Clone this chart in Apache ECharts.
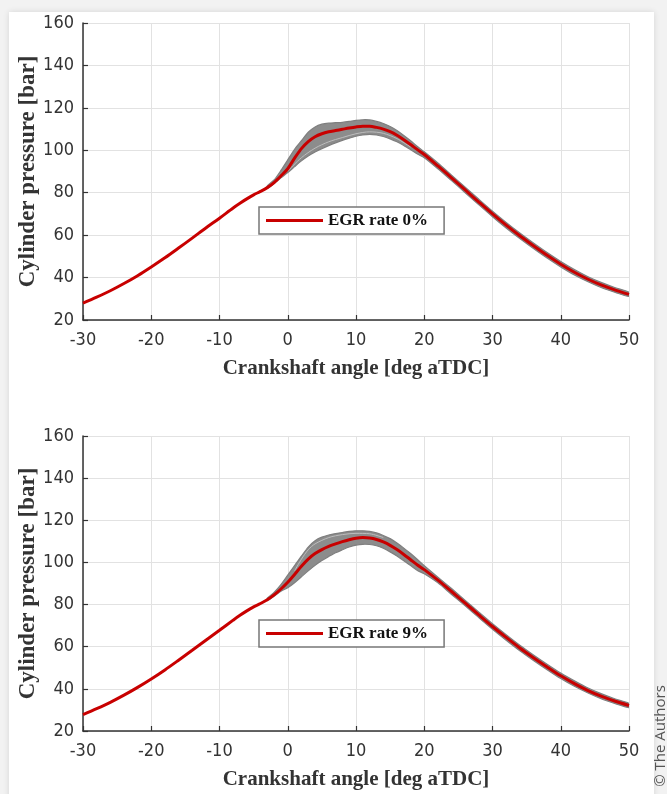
<!DOCTYPE html>
<html><head><meta charset="utf-8">
<script src="https://cdn.jsdelivr.net/npm/echarts@6/dist/echarts.min.js"></script>
<style>
html,body{margin:0;padding:0;background:#f2f2f2;width:667px;height:794px;overflow:hidden}
#card{position:absolute;left:9px;top:12px;width:645px;height:800px;background:#fff;box-shadow:0 0 6px rgba(0,0,0,0.12)}
#chart{position:absolute;left:0;top:0;width:667px;height:794px}
</style></head>
<body><div id="card"></div><div id="chart"></div>
<script>
// ---- data ----
const angle = [-30,-28,-26,-24,-22,-20,-18,-16,-14,-12,-10,-8,-7,-6,-5,-4,-3,-2,-1,0,1,2,3,4,5,6,7,8,9,10,11,12,13,14,15,16,17,18,19,20,22,24,26,28,30,32,34,36,38,40,42,44,46,48,50];
const red0 = [28,30.8,33.8,37.2,40.9,45,49.3,53.9,58.6,63.4,68,72.8,
  75,77.1,79,80.6,82.4,84.8,87.9,91.3,96.3,100.8,104.1,106.4,107.8,108.7,109.3,109.9,110.5,111,111.3,111.3,110.8,110,108.8,107.1,105,102.7,100.3,98,
  92.6,87,81.3,75.6,70,64.7,59.7,55,50.5,46.3,42.5,39.2,36.4,34.1,32.1];
const red9 = [27.8,30.6,33.6,37,40.7,44.7,49,53.6,58.3,63.1,67.8,72.6,
  74.9,77,78.9,80.5,82.3,84.6,87.4,90.6,94.3,98.2,101.6,104.2,106.1,107.6,108.8,109.9,110.8,111.5,111.8,111.6,110.9,109.7,108.1,106.1,103.8,101.3,98.8,96.6,
  91.6,86.2,80.7,75.1,69.6,64.4,59.4,54.8,50.4,46.2,42.5,39.2,36.4,34.1,32.1];
const bandAngle = [-3,-2,-1,0,1,2,3,4,5,6,7,8,9,10,11,12,13,14,15,16,17,18,19,20,22,24,26,28,30,32,34,36,38,40,42,44,46,48,50];
const upper0 = [83.2,86,90.5,95.5,100.5,104.5,108.5,111,112.3,112.8,113,113.2,113.6,114.1,114.4,114.3,113.6,112.6,111.2,109.3,107,104.5,101.8,99.3,
  94,88.3,82.6,76.9,71.3,66,61,56.3,51.8,47.6,43.8,40.4,37.6,35.2,33.1];
const lower0 = [82,84.3,87,89.5,92.3,95,97.3,99.2,100.8,102.2,103.5,104.7,105.7,106.6,107.2,107.5,107.2,106.5,105.4,104,102.3,100.3,98.2,96.5,
  91.3,85.7,80,74.3,68.7,63.4,58.4,53.7,49.2,45,41.2,38,35.2,33,31.1];
const upper9 = [83,85.8,89.5,94,98.5,103,107.3,110.3,112,113,113.7,114.2,114.7,115,115,114.7,114,112.8,111.3,109.2,106.8,104.2,101.4,98.5,
  93,87.6,82,76.4,70.9,65.7,60.7,56.1,51.7,47.5,43.8,40.4,37.6,35.2,33.1];
const lower9 = [81.9,84,86.3,88,90.4,93.2,96,98.6,100.9,102.8,104.6,106,107.3,108.2,108.6,108.5,107.9,106.7,105,103,100.8,98.5,96.2,94.6,
  90.3,84.8,79.4,73.8,68.3,63.1,58.1,53.5,49.1,44.9,41.2,38,35.2,33,31.1];
const streakAngle0 = [0,2,4,6,8,10,12,14,16,18];
const streak0 = [90.2,96.5,101,104,106,107.8,108.7,108,105.5,101.5];
const streakAngle9 = [1,2,3,4,6,8,10,12,14];
const streak9 = [96,101.5,106,108.8,111.8,113.2,113.8,113.6,111.8];
const xTicks = {min:-30, max:50, interval:10};
const yTicks = {min:20, max:160, interval:20};
const legendNames = ['EGR rate 0%','EGR rate 9%'];
const xTitle = 'Crankshaft angle [deg aTDC]';
const yTitle = 'Cylinder pressure [bar]';

// ---- build ----
const pairs = (xs, ys) => xs.map((x,i)=>[x, ys[i]]);
const NARROW = "'Liberation Sans Narrow','Arial Narrow','DejaVu Sans Condensed','Liberation Sans',sans-serif";
const SERIF = "'Liberation Serif','Times New Roman',serif";
const RED = '#c80000';

function axesFor(i){
  const common = {
    gridIndex:i, type:'value',
    axisLine:{show:true,onZero:false,lineStyle:{color:'#333',width:1.5}},
    axisTick:{show:true,inside:true,length:5,lineStyle:{color:'#333',width:1.2}},
    splitLine:{show:true,lineStyle:{color:'#e2e2e2',width:1}},
    axisLabel:{fontFamily:NARROW,fontSize:18,color:'#333'},
    nameLocation:'middle',
    nameMoveOverlap:false
  };
  return {
    x: Object.assign({}, common, xTicks, {name:xTitle,nameGap:38,
      nameTextStyle:{fontFamily:SERIF,fontWeight:'bold',fontSize:21,color:'#333'},
      axisLabel:Object.assign({},common.axisLabel,{margin:11})}),
    y: Object.assign({}, common, yTicks, {name:yTitle,nameGap:43,
      nameTextStyle:{fontFamily:SERIF,fontWeight:'bold',fontSize:23,color:'#333'},
      axisLabel:Object.assign({},common.axisLabel,{margin:9})})
  };
}
const a0 = axesFor(0), a1 = axesFor(1);

function seriesFor(i, red, upper, lower, sAng, streak, name){
  const base = {type:'line', xAxisIndex:i, yAxisIndex:i, symbol:'none', smooth:0.3, silent:true};
  return [
    {type:'custom', xAxisIndex:i, yAxisIndex:i, silent:true, clip:true, z:1,
      data:[[bandAngle[0], upper[0]]],
      renderItem:function(params, api){
        const top = bandAngle.map((x,k)=>api.coord([x, upper[k]]));
        const bot = bandAngle.map((x,k)=>api.coord([x, lower[k]])).reverse();
        return {type:'polygon', shape:{points:top.concat(bot), smooth:0.25},
          style:{fill:'#8c8c8c', stroke:'#7f7f7f', lineWidth:1.2}};
      }},
    Object.assign({}, base, {name:'st'+i, data:pairs(sAng, streak), lineStyle:{color:'#bdbdbd',width:1}, z:3}),
    Object.assign({}, base, {name:name, color:RED, data:pairs(angle, red), lineStyle:{color:RED,width:3}, z:5})
  ];
}

function legendFor(name, top){
  return {data:[{name:name,icon:'rect'}], left:259, top:top, itemWidth:57, itemHeight:3, itemGap:5,
    padding:[5,16,5,7], borderColor:'#777', borderWidth:1.5, backgroundColor:'#fff',
    textStyle:{fontFamily:SERIF,fontWeight:'bold',fontSize:17,color:'#111'}, selectedMode:false};
}

const chart = echarts.init(document.getElementById('chart'), null, {renderer:'canvas'});
chart.setOption({
  animation:false,
  backgroundColor:'transparent',
  grid:[{left:83,right:38,top:23,height:297},{left:83,right:38,top:436,height:295}],
  xAxis:[a0.x, a1.x],
  yAxis:[a0.y, a1.y],
  legend:[legendFor(legendNames[0],207), legendFor(legendNames[1],620)],
  series:[].concat(
    seriesFor(0, red0, upper0, lower0, streakAngle0, streak0, legendNames[0]),
    seriesFor(1, red9, upper9, lower9, streakAngle9, streak9, legendNames[1])
  ),
  graphic:[{type:'text', x:661, y:736, rotation:Math.PI/2,
    style:{text:'© The Authors', fontFamily:"'Open Sans','Noto Sans',sans-serif", fontSize:15, fill:'#555', align:'center', verticalAlign:'middle'}}]
});
</script></body></html>
